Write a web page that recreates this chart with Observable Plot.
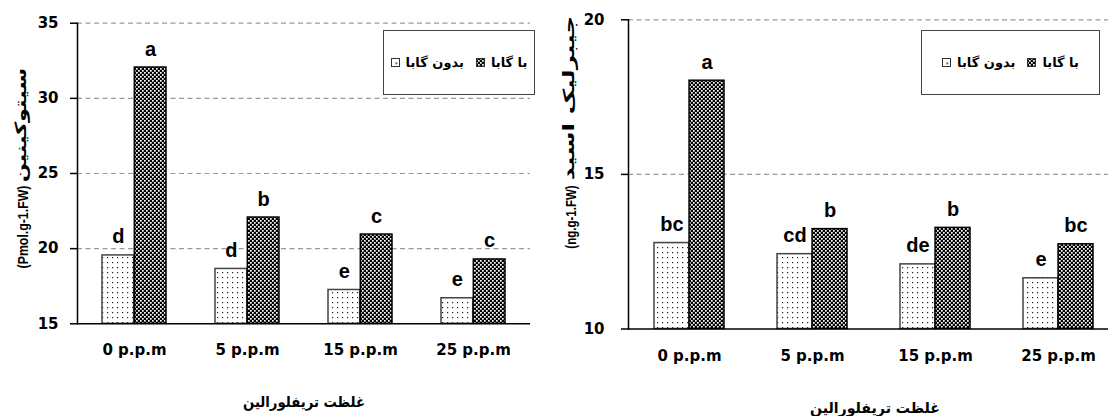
<!DOCTYPE html>
<html>
<head>
<meta charset="utf-8">
<script src="https://cdn.jsdelivr.net/npm/d3@7"></script>
<script src="https://cdn.jsdelivr.net/npm/@observablehq/plot@0.6"></script>
<style>
  body { margin: 0; background: #fff; }
  #wrap { position: relative; width: 1111px; height: 416px; overflow: hidden; }
  #left { position: absolute; left: 0; top: 0; }
  #right { position: absolute; left: 555px; top: 0; }
  .legend { position: absolute; top: 30px; height: 63px; border: 1.5px solid #444; background: #fff;
            display: flex; align-items: center; justify-content: center; direction: ltr;
            font-family: "DejaVu Sans", sans-serif; font-weight: bold; font-size: 13px; color: #000; }
  .legend .sw { width: 9px; height: 9px; margin-right: 6px; display: inline-block; }
  .legend .item { display: flex; align-items: center; margin: 0 6px; }
  .title { position: absolute; white-space: nowrap; font-weight: bold; color: #000; line-height: 1; }
</style>
</head>
<body>
<svg width="0" height="0" style="position:absolute">
  <defs>
    <pattern id="dots" patternUnits="userSpaceOnUse" width="5" height="5">
      <rect width="5" height="5" fill="#fff"/>
      <rect x="2" y="2" width="1.2" height="1.2" fill="#222"/>
    </pattern>
    <pattern id="checker" patternUnits="userSpaceOnUse" width="4" height="4">
      <rect width="4" height="4" fill="#000"/>
      <rect x="0" y="0" width="1.7" height="1.7" fill="#fff"/>
      <rect x="2" y="2" width="1.7" height="1.7" fill="#fff"/>
    </pattern>
    <pattern id="dotsw" patternUnits="objectBoundingBox" width="1" height="1">
      <rect width="9" height="9" fill="#fff"/>
      <rect x="4" y="4" width="1.5" height="1.5" fill="#000"/>
    </pattern>
  </defs>
</svg>
<div id="wrap">
  <div id="left"></div>
  <div id="right"></div>
</div>
<script>
// ---- data ----
const concentrations = ["0 p.p.m", "5 p.p.m", "15 p.p.m", "25 p.p.m"];
const treatments = ["بدون گابا", "با گابا"];

const cytokininWithout = [19.55, 18.65, 17.25, 16.7];
const cytokininWith = [32.05, 22.07, 20.94, 19.28];
const cytokininLettersWithout = ["d", "d", "e", "e"];
const cytokininLettersWith = ["a", "b", "c", "c"];
const cytokininTicks = [15, 20, 25, 30, 35];

const gaWithout = [12.78, 12.42, 12.09, 11.64];
const gaWith = [18.03, 13.23, 13.27, 12.74];
const gaLettersWithout = ["bc", "cd", "de", "e"];
const gaLettersWith = ["a", "b", "b", "bc"];
const gaTicks = [10, 15, 20];

const cytokininUnit = "(Pmol.g-1.FW)";
const cytokininName = "سیتوکینین";
const gaUnit = "(ng.g-1.FW)";
const gaName = "جیبرلیک اسید";
const xTitle = "غلظت تریفلورالین";

function rows(without, withG, lw, lwi) {
  return concentrations.flatMap((c, i) => [
    {c, t: treatments[0], v: without[i], l: lw[i]},
    {c, t: treatments[1], v: withG[i], l: lwi[i]}
  ]);
}

const latin = "DejaVu Sans, sans-serif";
const letterFont = "Liberation Sans, Arial, sans-serif";

function chart(o) {
  const data = rows(o.without, o.withG, o.lw, o.lwi);
  const base = o.ticks[0];
  const pad = 0.43;
  const step = (o.xRange[1] - o.xRange[0]) / concentrations.length;
  const half = step * (1 - pad) / 2;
  return Plot.plot({
    width: o.width,
    height: 416,
    marginLeft: o.marginLeft,
    marginRight: o.marginRight,
    marginTop: o.marginTop,
    marginBottom: o.marginBottom,
    style: {fontFamily: latin, background: "transparent", overflow: "visible", color: "#000"},
    x: {type: "band", domain: concentrations, range: o.xRange, paddingInner: pad, paddingOuter: pad / 2, axis: null},
    y: {domain: [base, o.ticks[o.ticks.length - 1]], axis: null},
    marks: [
      Plot.ruleY(o.ticks.slice(1), {stroke: "#9a9a9a", strokeWidth: 1.2, strokeDasharray: "5,3.5"}),
      Plot.barY(data.filter(d => d.t === treatments[0]), {x: "c", y1: () => base, y2: "v", insetRight: half,
        fill: "url(#dots)", stroke: "#444", strokeWidth: 1.5}),
      Plot.barY(data.filter(d => d.t === treatments[1]), {x: "c", y1: () => base, y2: "v", insetLeft: half,
        fill: "url(#checker)", stroke: "#000", strokeWidth: 1.5}),
      Plot.text(data.filter(d => d.t === treatments[0]), {x: "c", y: "v", text: "l", dx: -half / 2, dy: -12,
        lineAnchor: "bottom", fontSize: 20, fontWeight: "bold", fontFamily: letterFont, fill: "#000"}),
      Plot.text(data.filter(d => d.t === treatments[1]), {x: "c", y: "v", text: "l", dx: half / 2, dy: -12,
        lineAnchor: "bottom", fontSize: 20, fontWeight: "bold", fontFamily: letterFont, fill: "#000"}),
      Plot.axisY(o.ticks, {label: null, tickSize: 7, tickPadding: o.tickPadding, fontSize: 15, fontWeight: "bold", stroke: "#000", strokeWidth: 1.5}),
      Plot.axisX({label: null, tickSize: 0, tickPadding: 21, fontSize: 15, fontWeight: "bold"}),
      Plot.frame({anchor: "left", stroke: "#000", strokeWidth: 1.5}),
      Plot.ruleY([base], {stroke: "#000", strokeWidth: 1.5})
    ]
  });
}

document.getElementById("left").append(chart({
  without: cytokininWithout, withG: cytokininWith, lw: cytokininLettersWithout, lwi: cytokininLettersWith,
  ticks: cytokininTicks, width: 555, marginLeft: 77, marginRight: 25, marginTop: 22.7, marginBottom: 92.7,
  xRange: [77, 530.5], tickPadding: 12
}));

document.getElementById("right").append(chart({
  without: gaWithout, withG: gaWith, lw: gaLettersWithout, lwi: gaLettersWith,
  ticks: gaTicks, width: 556, marginLeft: 73, marginRight: 3, marginTop: 19.3, marginBottom: 87.5,
  xRange: [72.5, 564.5], tickPadding: 17
}));

const wrap = document.getElementById("wrap");

// axis titles as HTML (Persian shaping laid out by the browser), stretched to the reference length
function title(text, cx, cy, rotate, fontSize, fontFamily, targetLen, dir) {
  const div = document.createElement("div");
  div.className = "title";
  div.textContent = text;
  div.style.fontSize = fontSize + "px";
  div.style.fontFamily = fontFamily;
  div.style.direction = dir;
  div.style.left = cx + "px";
  div.style.top = cy + "px";
  wrap.append(div);
  const k = targetLen ? targetLen / div.offsetWidth : 1;
  div.style.transform = `translate(-50%, -50%)${rotate ? " rotate(-90deg)" : ""} scaleX(${k})`;
}
const faFont = "DejaVu Sans, sans-serif";
const enFont = "Liberation Sans, Arial, sans-serif";
title(cytokininUnit, 22, 226.5, true, 15, enFont, 83, "ltr");
title(cytokininName, 22, 124.5, true, 15.5, faFont, 115, "rtl");
title(gaUnit, 570, 216.5, true, 15, enFont, 63, "ltr");
title(gaName, 570, 97.5, true, 15.5, faFont, 165, "rtl");
title(xTitle, 304, 402, false, 15, faFont, 122, "rtl");
title(xTitle, 875, 408, false, 15, faFont, 130, "rtl");

// legends
function legend(left, width) {
  const div = document.createElement("div");
  div.className = "legend";
  div.style.left = left + "px";
  div.style.width = width + "px";
  const fills = ["url(#dotsw)", "url(#checker)"];
  treatments.forEach((t, i) => {
    const item = document.createElement("span");
    item.className = "item";
    item.innerHTML = `<svg class="sw" width="9" height="9"><rect x="0.5" y="0.5" width="8" height="8" fill="${fills[i]}" stroke="#333" stroke-width="1"/></svg><span>${t}</span>`;
    div.append(item);
  });
  wrap.append(div);
}
legend(383, 150);
legend(921, 177);
</script>
</body>
</html>
